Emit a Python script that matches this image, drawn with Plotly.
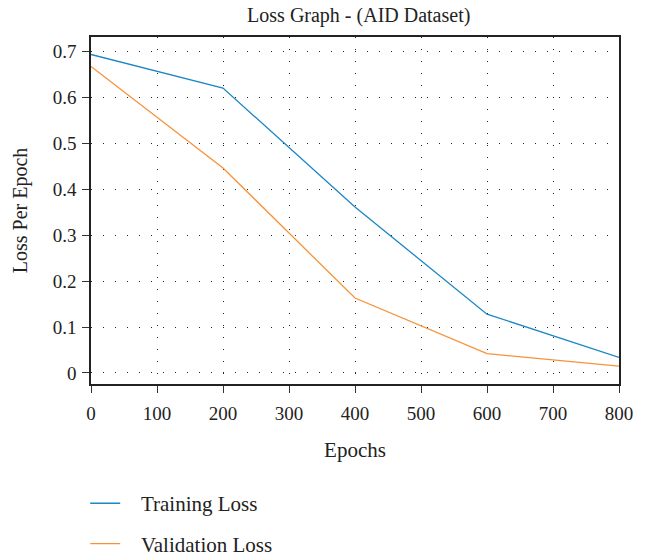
import plotly.graph_objects as go

epochs = [0, 200, 400, 600, 800]
training_loss = [0.693, 0.620, 0.361, 0.128, 0.034]
validation_loss = [0.667, 0.446, 0.163, 0.042, 0.015]
x_ticks = [0, 100, 200, 300, 400, 500, 600, 700, 800]
y_ticks = [0, 0.1, 0.2, 0.3, 0.4, 0.5, 0.6, 0.7]
y_tick_labels = ["0", "0.1", "0.2", "0.3", "0.4", "0.5", "0.6", "0.7"]
series_names = ["Training Loss", "Validation Loss"]

font = "Liberation Serif"
txt = "#222"
gap = "\u00a0\u00a0\u00a0"

fig = go.Figure()
fig.add_trace(go.Scatter(x=epochs, y=training_loss, mode="lines", name=gap + series_names[0],
                         line=dict(color="#1b87c5", width=1.3), legendgroup="a"))
fig.add_trace(go.Scatter(x=epochs, y=validation_loss, mode="lines", name=gap + series_names[1],
                         line=dict(color="#f7923a", width=1.3), legendgroup="b"))

axis_common = dict(showline=True, linecolor="#222", linewidth=1.5, mirror=True,
                   ticks="outside", ticklen=7, tickcolor="#333", tickwidth=1.2,
                   showgrid=True, gridcolor="#222", gridwidth=1, griddash="1px,11px",
                   zeroline=False, tickfont=dict(family=font, size=19, color=txt))

fig.update_xaxes(range=[0, 800], tickvals=x_ticks, ticklabelstandoff=4,
                 title=dict(text="Epochs", font=dict(family=font, size=21, color=txt), standoff=20),
                 **axis_common)
fig.update_yaxes(range=[-0.024, 0.731], tickvals=y_ticks, ticktext=y_tick_labels, ticklabelstandoff=2,
                 title=dict(text="Loss Per Epoch", font=dict(family=font, size=20, color=txt), standoff=20),
                 **axis_common)

# page body has an 8px margin, so the figure is offset by (8, 8)
fig.update_layout(
    width=643, height=548,
    margin=dict(l=83, r=32, t=29, b=172),
    paper_bgcolor="white", plot_bgcolor="white",
    title=dict(text="Loss Graph - (AID Dataset)", x=0.5455, xanchor="center", y=0.987, yanchor="middle",
               font=dict(family=font, size=20, color=txt)),
    showlegend=True,
    legend=dict(x=-0.011, xanchor="left", xref="paper", y=0.133, yanchor="top", yref="container",
                orientation="v",
                font=dict(family=font, size=21, color=txt), tracegroupgap=10,
                bgcolor="rgba(0,0,0,0)"),
)

fig.write_html("out.html")
